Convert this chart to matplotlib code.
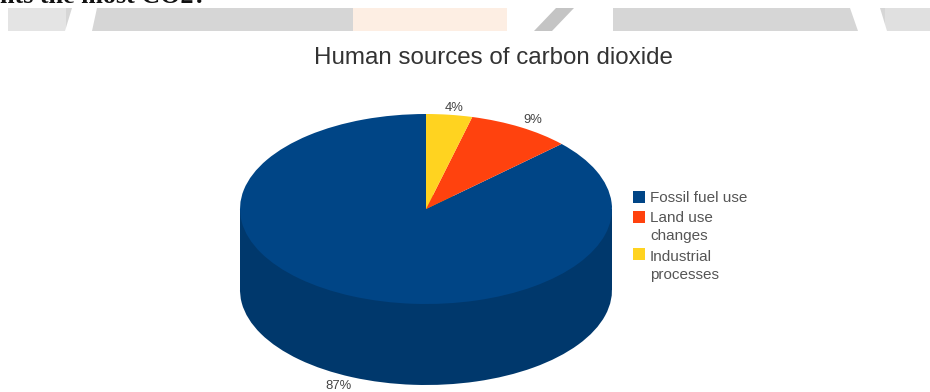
import matplotlib
matplotlib.use("Agg")
import matplotlib.pyplot as plt
from matplotlib.patches import Polygon, Rectangle

plt.rcParams['font.family'] = ['Liberation Sans', 'DejaVu Sans']

sources = ["Fossil fuel use", "Land use\nchanges", "Industrial\nprocesses"]
shares = [87, 9, 4]
share_labels = ["87%", "9%", "4%"]
top_colors = ["#004586", "#ff420e", "#ffd320"]
side_colors = ["#00386c", "#cc350b", "#cca91a"]

W, H = 930, 392
fig = plt.figure(figsize=(W / 100, H / 100), dpi=100)

# page layer in pixel coordinates, for the banner and the text around the chart
page = fig.add_axes([0, 0, 1, 1])
page.set_xlim(0, W)
page.set_ylim(H, 0)
page.axis("off")

# banner pieces
page.add_patch(Rectangle((8, 8), 922, 23, color="#d6d6d6", lw=0))
page.add_patch(Rectangle((8, 8), 58, 23, color="#e4e4e4", lw=0))
page.add_patch(Rectangle((353, 8), 177, 23, color="white", lw=0))
page.add_patch(Rectangle((353, 8), 154, 23, color="#fdeee3", lw=0))
page.add_patch(Rectangle((885, 8), 45, 23, color="#e0e0e0", lw=0))
for pts in ([(72, 8), (97, 8), (92, 31), (65, 31)],
            [(530, 8), (613, 8), (613, 31), (530, 31)],
            [(850, 8), (880, 8), (887, 31), (858, 31)]):
    page.add_patch(Polygon(pts, color="white", lw=0))
page.add_patch(Polygon([(556, 8), (574, 8), (552, 31), (534, 31)], color="#c4c4c4", lw=0))

page.text(0, 2.5, "nts the most CO2?", fontsize=18.8, fontweight="bold",
          family="Liberation Serif", va="baseline", ha="left", color="#111111")
page.text(493, 58, "Human sources of carbon dioxide", fontsize=17.4,
          ha="center", va="center", color="#333333")

# the pie itself: two flattened pies joined by a band for the rim
cx, cy, rx, ry, depth = 426, 209, 186, 95, 81
pie_ax = fig.add_axes([(cx - rx) / W, 1 - (cy + ry + depth) / H,
                       2 * rx / W, (2 * ry + depth) / H])
d = depth / ry
pie_ax.pie(shares, colors=side_colors, startangle=90, center=(0, -d), radius=1)
pie_ax.add_patch(Rectangle((-1, -d), 2, d, color=side_colors[0], lw=0))
pie_ax.pie(shares, colors=top_colors, startangle=90, center=(0, 0), radius=1)
pie_ax.set_aspect("auto")
pie_ax.set_xlim(-1, 1)
pie_ax.set_ylim(-1 - d, 1)

label_pos = [(338, 386), (533, 120), (454, 108)]
for txt, (x, y) in zip(share_labels, label_pos):
    page.text(x, y, txt, fontsize=9.4, ha="center", va="center", color="#444444",
              zorder=5)

# legend
key_y = [197, 217, 254]
text_y = [198, 227, 266]
for name, col, ky, ty in zip(sources, top_colors, key_y, text_y):
    page.add_patch(Rectangle((633, ky - 6), 12, 12, color=col, lw=0))
    page.text(650, ty, name, fontsize=11, ha="left", va="center",
              color="#555555", linespacing=1.3)

fig.savefig("out.png", dpi=100)
